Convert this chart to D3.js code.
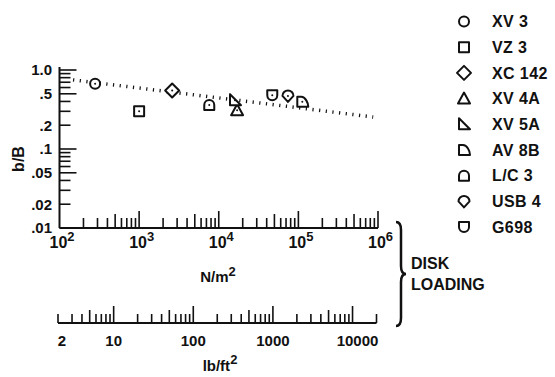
<!DOCTYPE html>
<meta charset="utf-8">
<title>b/B vs disk loading</title>
<script src="https://d3js.org/d3.v7.min.js"></script>
<style>
body { margin: 0; background: #fff; }
svg { font-family: "Liberation Sans", Arial, sans-serif; font-weight: bold; }
</style>
<body>
<script>
// aircraft, in legend order
const names = ['XV 3', 'VZ 3', 'XC 142', 'XV 4A', 'XV 5A', 'AV 8B', 'L/C 3', 'USB 4', 'G698'];
// disk loading, N/m^2
const diskLoading = [280, 1000, 2600, 17000, 16000, 112000, 7600, 74000, 47000];
// b/B
const spanRatio = [0.67, 0.30, 0.55, 0.31, 0.415, 0.395, 0.36, 0.47, 0.48];
// dotted trend line end points
const trendX = [148, 870000];
const trendY = [0.75, 0.254];
// axis ticks
const yTickValues = [1, 0.5, 0.2, 0.1, 0.05, 0.02, 0.01];
const yTickLabels = ['1.0', '.5', '.2', '.1', '.05', '.02', '.01'];
const xTickExps = [2, 3, 4, 5, 6];
const lbTickValues = [2, 10, 100, 1000, 10000];
const lbDomain = [2, 20000];
const nPerLb = 47.88;

const ink = '#111';
const width = 555;
const height = 377;

const x = d3.scaleLog().domain([1e2, 1e6]).range([59.5, 378]);
const y = d3.scaleLog().domain([0.01, 1]).range([228, 70]);
const xLb = v => x(v * nPerLb);

const svg = d3.select('body').append('svg')
	.attr('width', width)
	.attr('height', height);

// minor/major tick length for a log value
function tickLen(v, big, mid, small) {
	const m = Math.round(v / Math.pow(10, Math.floor(Math.log10(v) + 1e-9)));
	if (m === 1) return big;
	if (m === 5) return mid;
	return small;
}
function logTicks(lo, hi) {
	const out = [];
	for (let e = Math.floor(Math.log10(lo)); e <= Math.ceil(Math.log10(hi)); e++) {
		for (let m = 1; m < 10; m++) {
			const v = m * Math.pow(10, e);
			if (v >= lo * 0.999 && v <= hi * 1.001) out.push(v);
		}
	}
	return out;
}

// axes lines
svg.append('line')
	.attr('x1', x(1e2)).attr('x2', x(1e2))
	.attr('y1', y(1) - 3).attr('y2', y(0.01))
	.attr('stroke', ink).attr('stroke-width', 2);
svg.append('line')
	.attr('x1', x(1e2)).attr('x2', x(1e6))
	.attr('y1', y(0.01)).attr('y2', y(0.01))
	.attr('stroke', ink).attr('stroke-width', 2);

// y ticks (inside, to the right)
svg.append('g').selectAll('line')
	.data(logTicks(0.01, 1))
	.join('line')
		.attr('x1', x(1e2))
		.attr('x2', d => x(1e2) + tickLen(d, 17, 17, 11))
		.attr('y1', d => y(d)).attr('y2', d => y(d))
		.attr('stroke', ink).attr('stroke-width', 1.6);

// x ticks (inside, upward)
svg.append('g').selectAll('line')
	.data(logTicks(1e2, 1e6).slice(1))
	.join('line')
		.attr('x1', d => x(d)).attr('x2', d => x(d))
		.attr('y1', y(0.01))
		.attr('y2', d => y(0.01) - tickLen(d, 17, 14, 10))
		.attr('stroke', ink).attr('stroke-width', 1.6);

// y tick labels
svg.append('g').selectAll('text')
	.data(yTickValues)
	.join('text')
		.attr('x', 52)
		.attr('y', d => y(d))
		.attr('dy', '0.36em')
		.attr('text-anchor', 'end')
		.attr('font-size', 15)
		.attr('fill', ink)
		.text((d, i) => yTickLabels[i]);

// x tick labels 10^n
const xl = svg.append('g').selectAll('text')
	.data(xTickExps)
	.join('text')
		.attr('x', d => x(Math.pow(10, d)) - 10)
		.attr('y', 248)
		.attr('font-size', 16)
		.attr('fill', ink);
xl.append('tspan').text('10');
xl.append('tspan').attr('dy', -7).attr('font-size', 13).text(d => d);

// y label
svg.append('text')
	.attr('transform', 'translate(24,159) rotate(-90)')
	.attr('text-anchor', 'middle')
	.attr('font-size', 16)
	.attr('fill', ink)
	.text('b/B');

// N/m2 label
const nl = svg.append('text')
	.attr('x', 218).attr('y', 282)
	.attr('text-anchor', 'middle')
	.attr('font-size', 15)
	.attr('fill', ink);
nl.append('tspan').text('N/m');
nl.append('tspan').attr('dy', -6).attr('font-size', 13).text('2');

// lb/ft2 axis
const lbY = 323;
svg.append('line')
	.attr('x1', xLb(lbDomain[0])).attr('x2', xLb(lbDomain[1]))
	.attr('y1', lbY).attr('y2', lbY)
	.attr('stroke', ink).attr('stroke-width', 2);
svg.append('g').selectAll('line')
	.data(logTicks(lbDomain[0], lbDomain[1]))
	.join('line')
		.attr('x1', d => xLb(d)).attr('x2', d => xLb(d))
		.attr('y1', lbY)
		.attr('y2', d => lbY - tickLen(d, 17, 13, 9))
		.attr('stroke', ink).attr('stroke-width', 1.6);
svg.append('g').selectAll('text')
	.data(lbTickValues)
	.join('text')
		.attr('x', d => xLb(d) + (d === 2 ? 4 : d === 10000 ? 5 : 0))
		.attr('y', 346)
		.attr('text-anchor', 'middle')
		.attr('font-size', 15)
		.attr('fill', ink)
		.text(d => d);
const ll = svg.append('text')
	.attr('x', 220).attr('y', 371)
	.attr('text-anchor', 'middle')
	.attr('font-size', 15)
	.attr('fill', ink);
ll.append('tspan').text('lb/ft');
ll.append('tspan').attr('dy', -7).attr('font-size', 13).text('2');

// brace and DISK LOADING
const bTop = 222, bMid = 274, bBot = 326, bx = 401;
svg.append('path')
	.attr('d', `M${bx - 5},${bTop} Q${bx},${bTop} ${bx},${bTop + 8} L${bx},${bMid - 8} Q${bx},${bMid} ${bx + 5},${bMid}
		Q${bx},${bMid} ${bx},${bMid + 8} L${bx},${bBot - 8} Q${bx},${bBot} ${bx - 5},${bBot}`)
	.attr('fill', 'none').attr('stroke', ink).attr('stroke-width', 2.5);
svg.append('text').attr('x', 411).attr('y', 269).attr('font-size', 16).attr('fill', ink).text('DISK');
svg.append('text').attr('x', 411).attr('y', 290).attr('font-size', 16).attr('fill', ink).text('LOADING');

// dotted trend line
svg.append('line')
	.attr('x1', x(trendX[0])).attr('y1', y(trendY[0]))
	.attr('x2', x(trendX[1])).attr('y2', y(trendY[1]))
	.attr('stroke', ink).attr('stroke-width', 3.5)
	.attr('stroke-dasharray', '1.2,5.5');

// marker shapes, centred on 0,0
const shapes = [
	'M-5,0A5,5 0 1 1 5,0A5,5 0 1 1 -5,0Z',
	'M-5,-5L5,-5L5,5L-5,5Z',
	'M0,-7L7,0L0,7L-7,0Z',
	'M0,-6L6,5L-6,5Z',
	'M-5,-6L-5,5L6,5Z',
	'M-5,-5L-1,-5C3,-5 6,1 6,5L-5,5Z',
	'M-5,5L-5,0A5,5 0 0 1 5,0L5,5Z',
	'M0,6L-5.5,0A5.5,5.5 0 0 1 5.5,0Z',
	'M-5,-5L5,-5L5,0A5,5 0 0 1 -5,0Z',
];

const pts = svg.append('g').selectAll('g')
	.data(names)
	.join('g')
		.attr('transform', (d, i) => `translate(${x(diskLoading[i])},${y(spanRatio[i])})`);
pts.append('path')
	.attr('d', (d, i) => shapes[i])
	.attr('fill', '#fff').attr('stroke', ink).attr('stroke-width', 2)
	.attr('stroke-linejoin', 'round');
pts.append('circle').attr('r', 1).attr('fill', ink);

// legend
const leg = svg.append('g').selectAll('g')
	.data(names)
	.join('g')
		.attr('transform', (d, i) => `translate(464,${21.5 + i * 25.7})`);
leg.append('path')
	.attr('d', (d, i) => shapes[i])
	.attr('fill', 'none').attr('stroke', ink).attr('stroke-width', 2)
	.attr('stroke-linejoin', 'round');
leg.append('text')
	.attr('x', 28)
	.attr('dy', '0.36em')
	.attr('font-size', 16)
	.attr('letter-spacing', 0.4)
	.attr('fill', ink)
	.text(d => d);
</script>
</body>
